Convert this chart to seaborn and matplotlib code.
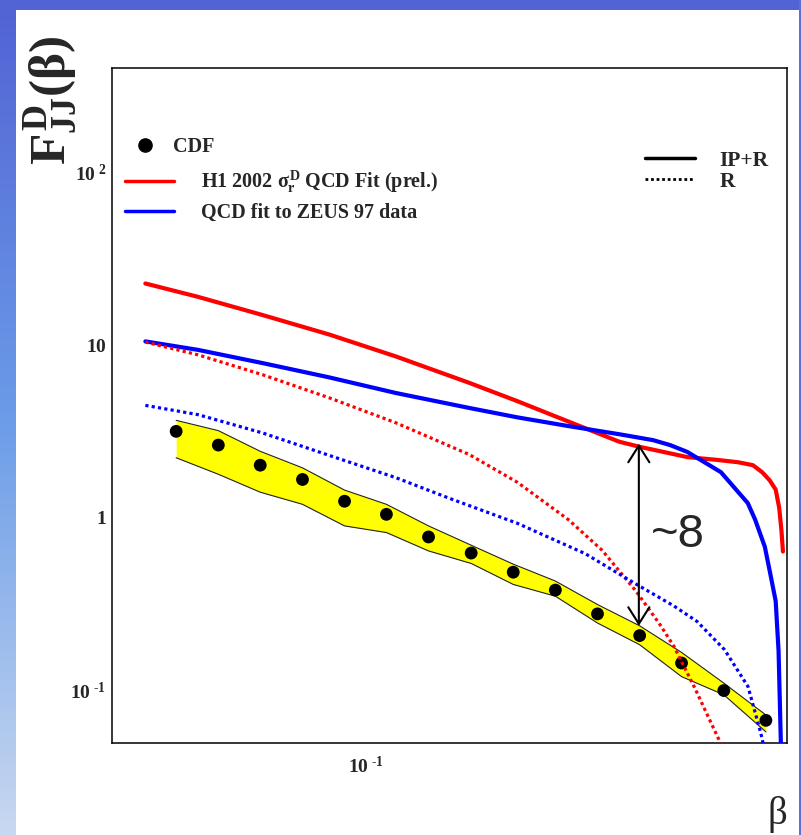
import numpy as np
import pandas as pd
import seaborn as sns
import matplotlib.pyplot as plt
from matplotlib.lines import Line2D
from matplotlib.patches import Rectangle
from matplotlib.colors import LinearSegmentedColormap
from matplotlib.ticker import FixedLocator, FixedFormatter, LogLocator, NullFormatter

# CDF diffractive dijet points (beta, F_JJ^D) and the yellow uncertainty band
beta_cdf = [0.0355, 0.0447, 0.0562, 0.0708, 0.0891, 0.112, 0.141, 0.178,
            0.224, 0.282, 0.355, 0.447, 0.562, 0.708, 0.891]
f_cdf = [3.17, 2.64, 2.02, 1.67, 1.25, 1.05, 0.777, 0.627,
         0.486, 0.383, 0.279, 0.209, 0.145, 0.1005, 0.0676]
f_cdf_hi = [3.67, 3.20, 2.43, 1.95, 1.45, 1.20, 0.90, 0.696,
            0.541, 0.432, 0.316, 0.238, 0.167, 0.111, 0.0726]
f_cdf_lo = [2.23, 1.79, 1.41, 1.20, 0.90, 0.824, 0.645, 0.546,
            0.413, 0.353, 0.247, 0.185, 0.121, 0.095, 0.058]

# H1 2002 QCD fit, IP+R (solid) and R only (dotted)
beta_h1_tot = [0.030, 0.040, 0.057, 0.082, 0.118, 0.176, 0.229, 0.303, 0.400,
               0.447, 0.509, 0.580, 0.680, 0.766, 0.830, 0.873, 0.910, 0.940,
               0.958, 0.970, 0.978]
f_h1_tot = [22.7, 19.0, 14.9, 11.5, 8.59, 6.05, 4.74, 3.61, 2.76,
            2.58, 2.41, 2.25, 2.17, 2.10, 2.02, 1.84, 1.65, 1.46,
            1.15, 0.85, 0.64]
beta_h1_r = [0.030, 0.040, 0.057, 0.082, 0.118, 0.176, 0.229, 0.303, 0.364,
             0.438, 0.500, 0.539, 0.603, 0.684, 0.720]
f_h1_r = [10.4, 8.78, 6.73, 4.95, 3.55, 2.33, 1.61, 0.977, 0.651,
          0.378, 0.241, 0.181, 0.105, 0.0544, 0.042]

# QCD fit to ZEUS 97 data, IP+R (solid) and R only (dotted)
beta_zeus_tot = [0.030, 0.040, 0.057, 0.082, 0.118, 0.176, 0.229, 0.303, 0.400,
                 0.481, 0.528, 0.580, 0.697, 0.807, 0.840, 0.886, 0.913, 0.940,
                 0.955, 0.967, 0.974]
f_zeus_tot = [10.5, 9.38, 7.86, 6.50, 5.28, 4.33, 3.82, 3.40, 3.05,
              2.82, 2.64, 2.41, 1.84, 1.22, 0.98, 0.681, 0.474, 0.331,
              0.17, 0.05, 0.03]
beta_zeus_r = [0.030, 0.040, 0.057, 0.082, 0.118, 0.158, 0.229, 0.332, 0.438,
               0.539, 0.612, 0.711, 0.808, 0.867, 0.895]
f_zeus_r = [4.48, 3.96, 3.10, 2.30, 1.71, 1.30, 0.932, 0.622, 0.415,
            0.31, 0.252, 0.173, 0.106, 0.0568, 0.04]

# the "~8" gap marker
arrow_beta = 0.445
arrow_lo = 0.238
arrow_hi = 2.69

y_major = [0.1, 1, 10, 100]
y_major_labels = ['$10^{\\ \u20101}$', r'$1\ \ $', r'$10\ \ $', r'$10^{\ 2}$']
x_major = [0.1]
x_major_labels = ['$10^{\\ \u20101}$']
x_minor = [0.03, 0.04, 0.05, 0.06, 0.07, 0.08, 0.09,
           0.2, 0.3, 0.4, 0.5, 0.6, 0.7, 0.8, 0.9]

sns.set_style('white')
plt.rcParams['font.family'] = ['Liberation Serif', 'DejaVu Serif']
plt.rcParams['mathtext.fontset'] = 'custom'
plt.rcParams['mathtext.rm'] = 'Liberation Serif:bold'
plt.rcParams['mathtext.it'] = 'Liberation Serif:bold'
plt.rcParams['mathtext.bf'] = 'Liberation Serif:bold'

fig = plt.figure(figsize=(8.01, 8.35), dpi=100)

# slide background: gradient strip on the left, band on top, thin line right
bg = fig.add_axes([0, 0, 16 / 801, 1], zorder=-5)
slide_cmap = LinearSegmentedColormap.from_list('slide', ['#5262d4', '#6b9ce8', '#c8d8f0'])
bg.imshow(np.linspace(0, 1, 256).reshape(-1, 1), aspect='auto', cmap=slide_cmap)
bg.axis('off')
fig.add_artist(Rectangle((0, 1 - 10 / 835), 1, 10 / 835, transform=fig.transFigure,
                         facecolor='#5264d4', edgecolor='none', zorder=-4))
fig.add_artist(Rectangle((799 / 801, 0), 2 / 801, 1, transform=fig.transFigure,
                         facecolor='#5a6fd8', edgecolor='none', zorder=-4))

ax = fig.add_axes([112 / 801, 92 / 835, 675 / 801, 675 / 835])
ax.set_xscale('log')
ax.set_yscale('log')

# uncertainty band
ax.fill_between(beta_cdf, f_cdf_lo, f_cdf_hi, color='#ffff00', lw=0, zorder=1)
ax.plot(beta_cdf, f_cdf_hi, color='#222222', lw=0.8, zorder=1.1)
ax.plot(beta_cdf, f_cdf_lo, color='#222222', lw=0.8, zorder=1.1)

sns.scatterplot(x=beta_cdf, y=f_cdf, color='black', s=85, edgecolor='none',
                ax=ax, zorder=2)

curves = [
    (beta_h1_tot, f_h1_tot, 'red', '-', 3.0),
    (beta_zeus_tot, f_zeus_tot, 'blue', '-', 3.0),
    (beta_h1_r, f_h1_r, 'red', (0, (1, 1)), 2.3),
    (beta_zeus_r, f_zeus_r, 'blue', (0, (1, 1)), 2.3),
]
for bx, fy, col, ls, lw in curves:
    sns.lineplot(x=bx, y=fy, color=col, linestyle=ls, lw=lw, sort=False,
                 estimator=None, ax=ax, zorder=3)

ax.annotate('', xy=(arrow_beta, arrow_lo), xytext=(arrow_beta, arrow_hi),
            arrowprops=dict(arrowstyle='<->,head_length=0.6,head_width=0.38',
                            color='black', lw=1.5, shrinkA=0, shrinkB=0,
                            mutation_scale=20), zorder=4)
ax.text(0.476, 0.68, '~8', family='Liberation Sans', fontsize=34,
        ha='left', va='baseline', zorder=4)

ax.set_xlim(0.025, 1.0)
ax.set_ylim(0.05, 400)

ax.xaxis.set_major_locator(FixedLocator(x_major))
ax.xaxis.set_major_formatter(FixedFormatter(x_major_labels))
ax.xaxis.set_minor_locator(FixedLocator(x_minor))
ax.xaxis.set_minor_formatter(NullFormatter())
ax.yaxis.set_major_locator(FixedLocator(y_major))
ax.yaxis.set_major_formatter(FixedFormatter(y_major_labels))
ax.yaxis.set_minor_locator(LogLocator(base=10, subs=np.arange(2, 10)))
ax.yaxis.set_minor_formatter(NullFormatter())

ax.tick_params(axis='both', which='both', direction='in', top=False, right=False,
               width=1.1, labelsize=14)
ax.tick_params(which='major', length=7.2)
ax.tick_params(which='minor', length=3.6)
ax.tick_params(axis='x', pad=9)
ax.tick_params(axis='y', pad=4)
for sp in ax.spines.values():
    sp.set_linewidth(1.1)
    sp.set_color('black')

ax.set_xlabel('β', family='Liberation Serif', fontsize=28, va='top', ha='center')
ax.xaxis.set_label_coords(0.985, -0.078)
ax.set_ylabel(r'$F^{D}_{JJ}(\beta)$', fontsize=37, va='center', ha='center')
ax.yaxis.set_label_coords(-0.0919, 0.9526)

# legends
legend_font = dict(family='Liberation Serif', weight='bold', size=14.5)
leg1 = ax.legend(handles=[Line2D([], [], marker='o', color='black', ls='none', markersize=9.5)],
                 labels=['CDF'], loc='center left', bbox_to_anchor=(0.0207, 0.883),
                 frameon=False, borderpad=0, borderaxespad=0, handlelength=1.9,
                 handletextpad=0.45, prop=legend_font)
ax.add_artist(leg1)
leg2 = ax.legend(handles=[Line2D([], [], color='red', lw=2.5), Line2D([], [], color='blue', lw=2.5)],
                 labels=[r'H1 2002 $\sigma_{r}^{D}$ QCD Fit (prel.)', 'QCD fit to ZEUS 97 data'],
                 loc='center left', bbox_to_anchor=(0.0193, 0.810),
                 frameon=False, borderpad=0, borderaxespad=0, handlelength=2.44,
                 handletextpad=1.35, labelspacing=0.4, prop=legend_font)
ax.add_artist(leg2)
ax.legend(handles=[Line2D([], [], color='black', lw=2.5), Line2D([], [], color='black', lw=2, ls=(0, (1, 1)))],
          labels=['IP+R', 'R'], loc='center left', bbox_to_anchor=(0.790, 0.847),
          frameon=False, borderpad=0, borderaxespad=0, handlelength=2.3,
          handletextpad=1.15, labelspacing=0.05, prop=dict(legend_font, size=15.5))

fig.savefig('out.png', dpi=100, facecolor='white')
